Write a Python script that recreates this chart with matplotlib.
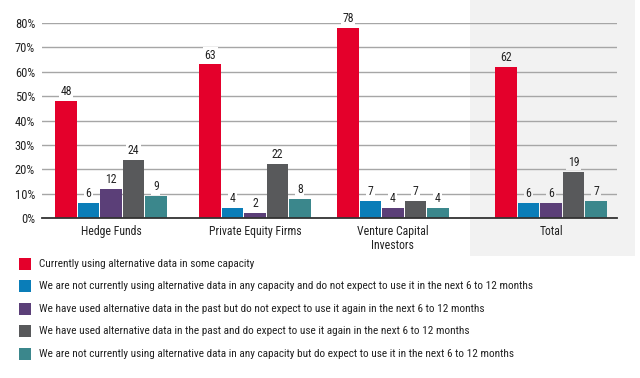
import matplotlib
matplotlib.use("Agg")
import matplotlib.pyplot as plt
from matplotlib.patches import Rectangle
import numpy as np

plt.rcParams['font.family'] = ['Roboto Condensed', 'Roboto', 'DejaVu Sans']

groups = ['Hedge Funds', 'Private Equity Firms', 'Venture Capital\nInvestors', 'Total']
series = [
    'Currently using alternative data in some capacity',
    'We are not currently using alternative data in any capacity and do not expect to use it in the next 6 to 12 months',
    'We have used alternative data in the past but do not expect to use it again in the next 6 to 12 months',
    'We have used alternative data in the past and do expect to use it again in the next 6 to 12 months',
    'We are not currently using alternative data in any capacity but do expect to use it in the next 6 to 12 months',
]
current = [48, 63, 78, 62]
not_using_no_plan = [6, 4, 7, 6]
used_no_plan = [12, 2, 4, 6]
used_plan = [24, 22, 7, 19]
not_using_plan = [9, 8, 4, 7]
yticks = [0, 10, 20, 30, 40, 50, 60, 70, 80]

colors = ['#E4002B', '#0A7DB8', '#5B3F78', '#58595B', '#3B878C']
values = [current, not_using_no_plan, used_no_plan, used_plan, not_using_plan]

fig = plt.figure(figsize=(6.4, 3.78), dpi=100)
# shaded panel behind "Total"
fig.patches.append(Rectangle((470/640, 1 - 256/378), 165/640, 256/378,
                             transform=fig.transFigure, facecolor='#F2F2F2',
                             edgecolor='none', zorder=0))

ax = fig.add_axes([42/640, 1 - 218/378, 575/640, 195/378])
ax.set_zorder(2)
ax.patch.set_alpha(0)

centers = np.array([0, 1, 1.958, 3.056])
step = 0.156
width = 0.149
for i, (vals, c) in enumerate(zip(values, colors)):
    xs = centers + (i - 2) * step
    ax.bar(xs, vals, width, color=c, zorder=3, label=series[i])
    for j, (x, v) in enumerate(zip(xs, vals)):
        bg = '#F2F2F2' if j == 3 else 'white'
        ax.text(x, v + 1.2, str(v), ha='center', va='bottom', fontsize=8.5,
                color='#222222', zorder=4,
                bbox=dict(facecolor=bg, edgecolor='none', pad=1.2))

ax.set_xlim(-0.479, 3.514)
ax.set_ylim(0, 80)
ax.set_yticks(yticks)
ax.set_yticklabels([f'{t}%' for t in yticks], fontsize=9, color='#222222')
ax.set_xticks(centers)
ax.set_xticklabels(groups, fontsize=8.5, color='#222222', va='top', linespacing=1.1)
ax.tick_params(length=0, pad=5)
ax.yaxis.grid(True, color='#A6A6A6', linewidth=1, zorder=1)
for s in ['top', 'right', 'left']:
    ax.spines[s].set_visible(False)
ax.spines['bottom'].set_color('#333333')
ax.spines['bottom'].set_linewidth(1.3)
ax.spines['bottom'].set_zorder(5)

# legend rows
leg_y = [264, 286, 309, 331, 354]
for i, (c, lab) in enumerate(zip(colors, series)):
    y = 1 - leg_y[i] / 378
    fig.patches.append(Rectangle((19/640, y - 6/378), 12/640, 12/378,
                                 transform=fig.transFigure, facecolor=c, edgecolor='none'))
    fig.text(39/640, y, lab, fontsize=8.15, va='center', ha='left', color='#222222')

fig.savefig('out.png', dpi=100)
